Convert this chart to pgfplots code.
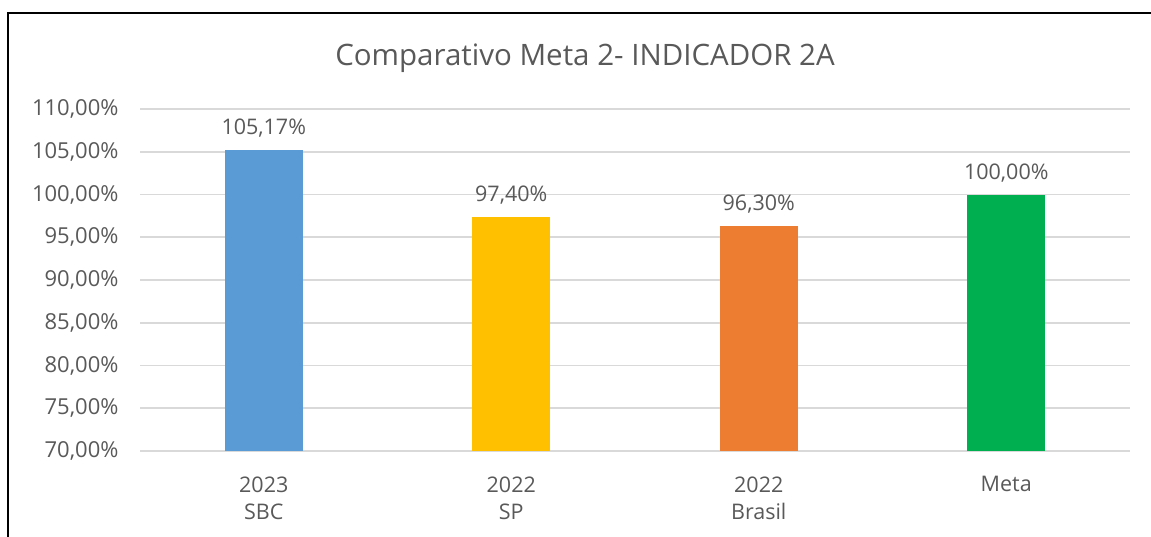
\documentclass[border=0pt]{standalone}
\usepackage{pgfplots}
\pgfplotsset{compat=1.18}
\usepackage{fontspec}
\setmainfont{Open Sans}
\definecolor{txtgray}{HTML}{595959}
\definecolor{gridgray}{HTML}{D9D9D9}
\definecolor{cblue}{HTML}{5B9BD5}
\definecolor{cyellow}{HTML}{FFC000}
\definecolor{corange}{HTML}{ED7D31}
\definecolor{cgreen}{HTML}{00B050}
\begin{document}
\begin{tikzpicture}[x=1pt,y=1pt]
\useasboundingbox (0,0) rectangle (1151,-537);
\draw[line width=2.5pt,line cap=rect] (8,-537) -- (8,-13) -- (1151,-13);
\node[text=txtgray,font=\fontsize{29.5}{34}\selectfont] at (585,-58) {Comparativo Meta 2- INDICADOR 2A};
\begin{axis}[
  at={(140pt,-451pt)}, anchor=south west,
  scale only axis,
  width=990pt, height=342pt,
  xmin=-0.5, xmax=3.5,
  ymin=70, ymax=110,
  ytick={70,75,...,110},
  xtick={0,1,2,3},
  xticklabels={{2023\\SBC},{2022\\SP},{2022\\Brasil},{Meta}},
  axis line style={draw=none},
  major tick length=0pt,
  ymajorgrids,
  major grid style={gridgray,line width=1.8pt},
  /pgf/number format/assume math mode=true,
  /pgf/number format/use comma,
  /pgf/number format/fixed,
  /pgf/number format/fixed zerofill,
  /pgf/number format/precision=2,
  yticklabel={\pgfmathprintnumber{\tick}\%},
  yticklabel style={font=\fontsize{22}{26}\selectfont,text=txtgray,anchor=east,xshift=-18pt},
  xticklabel style={font=\fontsize{21.5}{27}\selectfont,text=txtgray,align=center,anchor=north,yshift=-22pt},
  ybar, bar width=78pt, bar shift=0pt,
  nodes near coords={\pgfmathprintnumber{\pgfplotspointmeta}\%},
  nodes near coords style={font=\fontsize{21.5}{26}\selectfont,text=txtgray,yshift=9pt},
  clip=false,
]
\addplot[fill=cblue,draw=none] coordinates {(0,105.17)};
\addplot[fill=cyellow,draw=none] coordinates {(1,97.40)};
\addplot[fill=corange,draw=none] coordinates {(2,96.30)};
\addplot[fill=cgreen,draw=none] coordinates {(3,100.00)};
\end{axis}
\end{tikzpicture}
\end{document}
